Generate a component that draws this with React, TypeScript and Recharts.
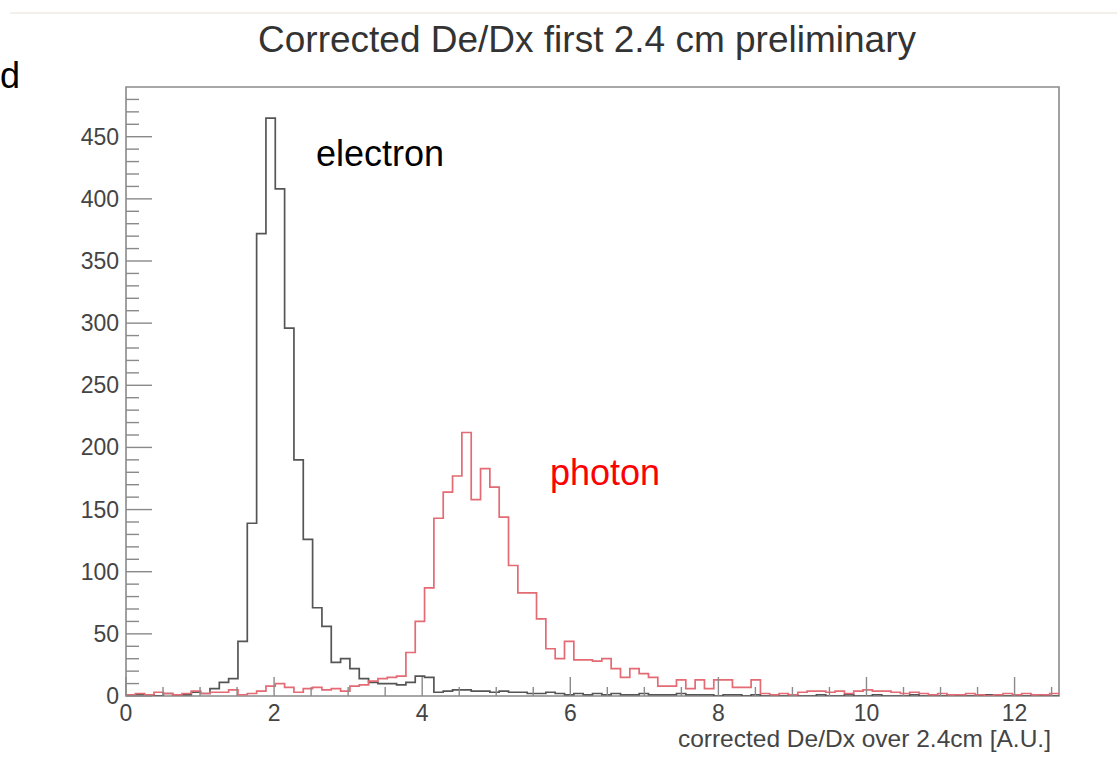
import React from 'react';
import { LineChart, Line, XAxis, YAxis, ReferenceArea } from 'recharts';

// Histogram: 100 bins from 0 to 12.6 (bin width 0.126)
const BIN_WIDTH = 0.126;
const X_MAX = 12.6;
const Y_MAX = 490;

const electronCounts = [
  0, 1, 1, 0, 2, 1, 1, 3, 2, 6,
  11, 14, 44, 139, 372, 465, 408, 296, 190, 126,
  71, 56, 27, 30, 22, 14, 11, 10, 10, 9,
  11, 16, 15, 3, 4, 5, 5, 4, 4, 3,
  4, 3, 3, 2, 2, 3, 2, 1, 2, 1,
  2, 1, 2, 1, 1, 2, 1, 1, 1, 2,
  1, 1, 1, 0, 1, 1, 0, 1, 0, 1,
  0, 1, 0, 0, 1, 0, 0, 1, 0, 0,
  1, 0, 0, 0, 1, 0, 0, 0, 1, 0,
  0, 0, 1, 0, 0, 0, 0, 1, 0, 0,
];

const photonCounts = [
  1, 2, 1, 3, 2, 1, 2, 4, 2, 3,
  3, 5, 1, 2, 4, 8, 10, 7, 3, 6,
  7, 5, 6, 4, 8, 9, 12, 14, 15, 16,
  35, 60, 87, 143, 164, 177, 212, 158, 183, 168,
  144, 105, 83, 83, 62, 38, 30, 44, 29, 29,
  28, 30, 22, 15, 22, 18, 15, 8, 8, 13,
  6, 13, 6, 13, 13, 7, 7, 13, 2, 1,
  2, 1, 3, 4, 4, 3, 4, 2, 4, 5,
  4, 4, 3, 2, 3, 2, 1, 2, 1, 1,
  2, 1, 0, 1, 2, 1, 2, 1, 1, 2,
];

const xMajorTicks = [0, 2, 4, 6, 8, 10, 12];
const xMinorTicks = [0.5, 1, 1.5, 2.5, 3, 3.5, 4.5, 5, 5.5, 6.5, 7, 7.5, 8.5, 9, 9.5, 10.5, 11, 11.5, 12.5];
const yMajorTicks = [0, 50, 100, 150, 200, 250, 300, 350, 400, 450];
const yMinorTicks = [
  10, 20, 30, 40, 60, 70, 80, 90, 110, 120, 130, 140, 160, 170, 180, 190,
  210, 220, 230, 240, 260, 270, 280, 290, 310, 320, 330, 340, 360, 370, 380, 390,
  410, 420, 430, 440, 460, 470, 480,
];

const TITLE = 'Corrected De/Dx first 2.4 cm preliminary';
const X_TITLE = 'corrected De/Dx over 2.4cm [A.U.]';

const FONT = '"Liberation Sans", Arial, Helvetica, sans-serif';
const AXIS_COLOR = '#8a8a8a';
const LABEL_COLOR = '#444444';

const data = electronCounts.map((e, i) => ({
  x: Math.round(i * BIN_WIDTH * 1000) / 1000,
  electron: e,
  photon: photonCounts[i],
}));
data.push({
  x: X_MAX,
  electron: electronCounts[electronCounts.length - 1],
  photon: photonCounts[photonCounts.length - 1],
});

const xTicks = [...xMajorTicks, ...xMinorTicks].sort((a, b) => a - b);
const yTicks = [...yMajorTicks, ...yMinorTicks].sort((a, b) => a - b);

const XTick = (props: any) => {
  const { x, y, payload } = props;
  const v = payload.value;
  const major = xMajorTicks.includes(v);
  return (
    <g>
      <line x1={x} x2={x} y1={y} y2={y - (major ? 19 : 9)} stroke={AXIS_COLOR} strokeWidth={1.4} />
      {major && (
        <text x={x} y={y + 25} textAnchor="middle" fontSize={23} fontFamily={FONT} fill={LABEL_COLOR}>
          {v}
        </text>
      )}
    </g>
  );
};

const YTick = (props: any) => {
  const { x, y, payload } = props;
  const v = payload.value;
  const major = yMajorTicks.includes(v);
  return (
    <g>
      <line x1={x} x2={x + (major ? 26 : 13)} y1={y} y2={y} stroke={AXIS_COLOR} strokeWidth={1.4} />
      {major && (
        <text x={x - 7} y={y + 8} textAnchor="end" fontSize={23} fontFamily={FONT} fill={LABEL_COLOR}>
          {v}
        </text>
      )}
    </g>
  );
};

const XTitle = (props: any) => {
  const vb = props.viewBox || { x: 126, y: 696, width: 933, height: 78 };
  return (
    <text
      x={vb.x + vb.width - 8}
      y={747}
      textAnchor="end"
      fontSize={24.5}
      fontFamily={FONT}
      fill={LABEL_COLOR}
    >
      {X_TITLE}
    </text>
  );
};

export default function App() {
  return (
    <div style={{ position: 'absolute', left: 0, top: 0, width: 1117, height: 774, background: '#ffffff' }}>
      <LineChart
        width={1117}
        height={774}
        data={data}
        margin={{ top: 87, right: 58, left: 0, bottom: 0 }}
      >
        <XAxis
          dataKey="x"
          type="number"
          domain={[0, X_MAX]}
          allowDataOverflow
          ticks={xTicks}
          interval={0}
          tickSize={0}
          tickMargin={0}
          axisLine={false}
          tickLine={false}
          tick={(p: any) => <XTick {...p} />}
          height={78}
          label={<XTitle />}
        />
        <YAxis
          type="number"
          domain={[0, Y_MAX]}
          allowDataOverflow
          ticks={yTicks}
          interval={0}
          tickSize={0}
          tickMargin={0}
          axisLine={false}
          tickLine={false}
          tick={(p: any) => <YTick {...p} />}
          width={126}
        />
        <Line
          type="stepAfter"
          dataKey="electron"
          stroke="#555555"
          strokeWidth={1.7}
          dot={false}
          activeDot={false}
          isAnimationActive={false}
        />
        <Line
          type="stepAfter"
          dataKey="photon"
          stroke="#e46a74"
          strokeWidth={1.7}
          dot={false}
          activeDot={false}
          isAnimationActive={false}
        />
        <ReferenceArea
          x1={0}
          x2={X_MAX}
          y1={0}
          y2={Y_MAX}
          fill="none"
          fillOpacity={0}
          stroke={AXIS_COLOR}
          strokeWidth={1.6}
          ifOverflow="visible"
        />
      </LineChart>
      <svg
        width={1117}
        height={774}
        style={{ position: 'absolute', left: 0, top: 0, pointerEvents: 'none' }}
      >
        <line x1={10} x2={1117} y1={13} y2={13} stroke="#f3efea" strokeWidth={2} />
        <text x={587} y={52} textAnchor="middle" fontSize={37} fontFamily={FONT} fill="#333333">
          {TITLE}
        </text>
        <text x={0} y={88} fontSize={36} fontFamily={FONT} fill="#000000">
          d
        </text>
        <text x={316} y={166} fontSize={36} fontFamily={FONT} fill="#000000">
          electron
        </text>
        <text x={550} y={485} fontSize={36} fontFamily={FONT} fill="#ff0000">
          photon
        </text>
      </svg>
    </div>
  );
}
